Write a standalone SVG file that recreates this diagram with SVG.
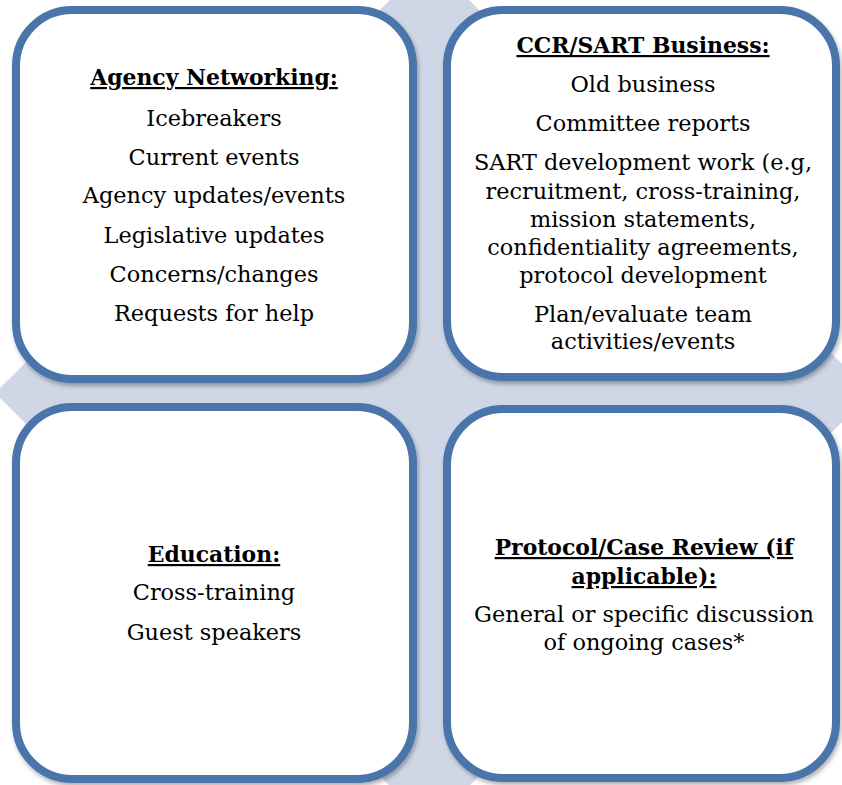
<svg xmlns="http://www.w3.org/2000/svg" width="842" height="785" viewBox="0 0 842 785">
<style>
.box{fill:#ffffff;stroke:#4A74AB;stroke-width:8;filter:url(#sh);}
.t{font-family:"DejaVu Serif","Liberation Serif",serif;font-size:22.4px;fill:#000;text-anchor:middle;}
.h{font-weight:bold;text-decoration:underline;font-size:21.9px;}
</style>
<defs>
<filter id="sh" x="-10%" y="-10%" width="120%" height="120%">
<feDropShadow dx="1.5" dy="3" stdDeviation="2" flood-color="#000" flood-opacity="0.3"/>
</filter>
</defs>
<rect width="842" height="785" fill="#ffffff"/>
<polygon points="429,-39 872,393 429,825 -5,393" fill="#CFD7E6"/>
<g id="agency-networking">
<rect class="box" x="16" y="10" width="397" height="369" rx="56" ry="56"/>
<text class="t h" x="214" y="85">Agency Networking:</text>
<text class="t" x="214" y="126">Icebreakers</text>
<text class="t" x="214" y="165">Current events</text>
<text class="t" x="214" y="203">Agency updates/events</text>
<text class="t" x="214" y="243">Legislative updates</text>
<text class="t" x="214" y="282">Concerns/changes</text>
<text class="t" x="214" y="321">Requests for help</text>
</g>
<g id="ccr-sart-business">
<rect class="box" x="447" y="10" width="389" height="367" rx="56" ry="56"/>
<text class="t h" x="643" y="53">CCR/SART Business:</text>
<text class="t" x="643" y="92">Old business</text>
<text class="t" x="643" y="131">Committee reports</text>
<text class="t" x="643" y="170">SART development work (e.g,</text>
<text class="t" x="643" y="199">recruitment, cross-training,</text>
<text class="t" x="643" y="227">mission statements,</text>
<text class="t" x="643" y="255">confidentiality agreements,</text>
<text class="t" x="643" y="283">protocol development</text>
<text class="t" x="643" y="322">Plan/evaluate team</text>
<text class="t" x="643" y="349">activities/events</text>
</g>
<g id="education">
<rect class="box" x="16" y="407" width="397" height="372" rx="56" ry="56"/>
<text class="t h" x="214" y="562">Education:</text>
<text class="t" x="214" y="600">Cross-training</text>
<text class="t" x="214" y="640">Guest speakers</text>
</g>
<g id="protocol-case-review">
<rect class="box" x="447" y="409" width="389" height="369" rx="56" ry="56"/>
<text class="t h" x="644" y="555">Protocol/Case Review (if</text>
<text class="t h" x="644" y="584">applicable):</text>
<text class="t" x="644" y="622">General or specific discussion</text>
<text class="t" x="644" y="650">of ongoing cases*</text>
</g>
<g id="connectors"></g>
</svg>
